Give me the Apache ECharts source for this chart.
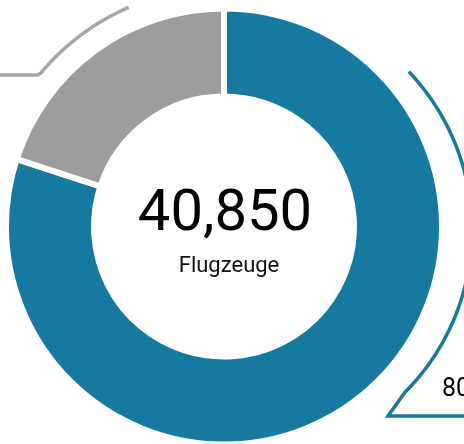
<!DOCTYPE html>
<html>
<head>
<meta charset="utf-8">
<script src="https://cdn.jsdelivr.net/npm/echarts@6/dist/echarts.min.js"></script>
<style>
  html, body { margin: 0; padding: 0; background: #fff; }
  #chart { width: 464px; height: 444px; }
</style>
</head>
<body>
<div id="chart"></div>
<script>
// data
const sliceNames = ['Gruppe A', 'Gruppe B'];
const sliceValues = [32680, 8170];
const sliceColors = ['#16799f', '#9c9d9f'];
const unitLabel = 'Flugzeuge';

const total = sliceValues.reduce((a, b) => a + b, 0);
const sharePct = Math.round(sliceValues[0] / total * 100);

// layout
const cx = 224, cy = 226.5;
const startAngle = 90;

// points along an arc, angles in math degrees (counter-clockwise, y up)
function arcPoints(x0, y0, r, a0, a1, n) {
  const pts = [];
  for (let i = 0; i <= n; i++) {
    const a = (a0 + (a1 - a0) * i / n) * Math.PI / 180;
    pts.push([x0 + r * Math.cos(a), y0 - r * Math.sin(a)]);
  }
  return pts;
}

// gray bracket sits around the middle of the gray slice
const grayMid = startAngle + (sliceValues[1] / total) * 360 / 2;
const grayBracket = arcPoints(cx, cy, 239, grayMid - 12.5, grayMid + 14, 40);
const gEnd = grayBracket[grayBracket.length - 1];
grayBracket.push([gEnd[0] - 3, 75], [-10, 75]);

// blue bracket on the right
const blueBracket = arcPoints(242, 230, 230, 43.5, -45, 80);
blueBracket.push([388, 416], [480, 416]);

const chart = echarts.init(document.getElementById('chart'));
chart.setOption({
  animation: false,
  series: [
    {
      type: 'pie',
      center: [cx, cy],
      radius: [130, 218],
      startAngle: startAngle,
      clockwise: true,
      silent: true,
      label: { show: false },
      labelLine: { show: false },
      itemStyle: { borderColor: '#fff', borderWidth: 6 },
      data: sliceNames.map((n, i) => ({
        name: n,
        value: sliceValues[i],
        itemStyle: { color: sliceColors[i] }
      }))
    }
  ],
  graphic: [
    {
      type: 'polyline',
      shape: { points: grayBracket },
      style: { stroke: '#a5a7a9', lineWidth: 3.5, fill: null, lineJoin: 'miter' }
    },
    {
      type: 'polyline',
      shape: { points: blueBracket },
      style: { stroke: sliceColors[0], lineWidth: 3.5, fill: null, lineJoin: 'miter' }
    },
    {
      type: 'text',
      x: cx + 1, y: 215,
      style: {
        text: total.toLocaleString('en-US'),
        font: '400 58px Roboto',
        fill: '#000',
        align: 'center',
        verticalAlign: 'middle'
      }
    },
    {
      type: 'text',
      x: cx + 5, y: 266,
      style: {
        text: unitLabel,
        font: '400 22px Roboto',
        fill: '#111',
        align: 'center',
        verticalAlign: 'middle'
      }
    },
    {
      type: 'text',
      x: 442, y: 390,
      style: {
        text: sharePct + '%',
        font: '400 25px Roboto',
        fill: '#000',
        align: 'left',
        verticalAlign: 'middle'
      }
    }
  ]
});
</script>
</body>
</html>
